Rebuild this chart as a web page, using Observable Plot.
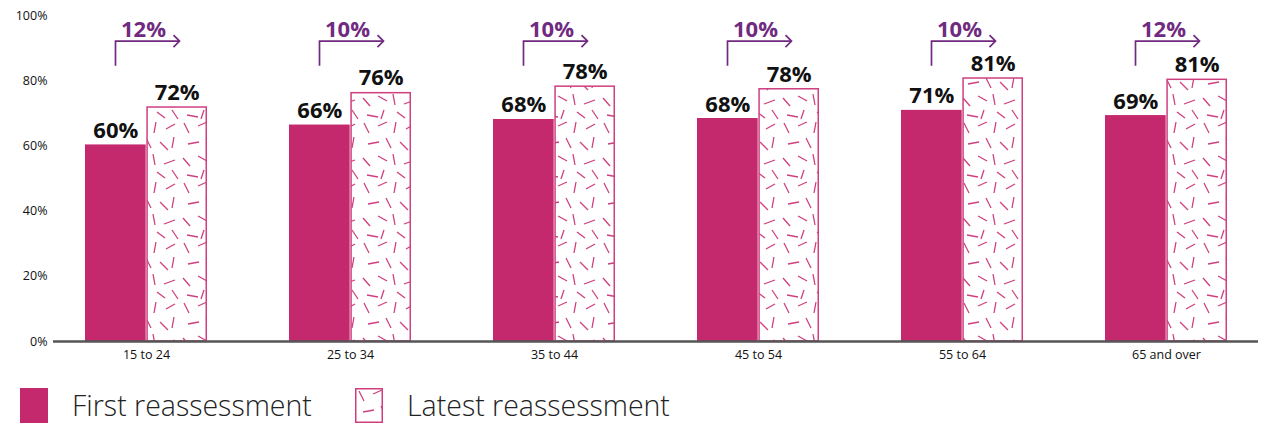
<!DOCTYPE html>
<html>
<head>
<meta charset="utf-8">
<script src="https://cdn.jsdelivr.net/npm/d3@7"></script>
<script src="https://cdn.jsdelivr.net/npm/@observablehq/plot@0.6"></script>
<style>
  html, body { margin: 0; padding: 0; background: #fff; }
  body { width: 1264px; height: 425px; overflow: hidden; font-family: "Open Sans", Lato, sans-serif; }
  #legend { position: relative; height: 60px; }
  .item { position: absolute; top: 23px; display: flex; align-items: center; }
  .item span { font-size: 28.5px; font-weight: 300; color: #222; margin-left: 24px; line-height: 35px; }
</style>
</head>
<body>
<div id="chart"></div>
<div id="legend"></div>
<script>
const ages = ["15 to 24", "25 to 34", "35 to 44", "45 to 54", "55 to 64", "65 and over"];
const firstValues = [60.3, 66.4, 68.1, 68.4, 70.9, 69.3];
const latestValues = [72.0, 76.4, 78.4, 77.6, 80.9, 80.5];
const firstLabels = ["60%", "66%", "68%", "68%", "71%", "69%"];
const latestLabels = ["72%", "76%", "78%", "78%", "81%", "81%"];
const changeLabels = ["12%", "10%", "10%", "10%", "10%", "12%"];
const yTicks = [0, 20, 40, 60, 80, 100];
const seriesNames = ["First reassessment", "Latest reassessment"];

const BAR = "#c4286d";
const PINK = "#cf3f7f";
const PURPLE = "#702a80";
const FONT = "'Open Sans', Lato, sans-serif";

const rows = ages.map((age, i) => ({
  age, first: firstValues[i], latest: latestValues[i],
  firstLabel: firstLabels[i], latestLabel: latestLabels[i], change: changeLabels[i]
}));

const xOpts = {type: "band", domain: ages, range: [51, 1261], paddingInner: 0.4, paddingOuter: 0.16};
const xs = Plot.scale({x: xOpts});
const bw = xs.bandwidth;

const dashes = [[4,3,9,13],[18,6,27,2],[36,2,34,13],[46,9,55,4],
  [8,24,19,22],[26,18,31,28],[40,22,48,30],[54,17,52,28],
  [3,38,10,46],[18,36,27,41],[33,34,35,45],[44,44,55,40],
  [7,55,18,57],[24,50,21,59],[37,52,45,58],[52,50,58,59]];
const patternDef = `<pattern id="dashes" patternUnits="userSpaceOnUse" width="60" height="60"><rect width="60" height="60" fill="#fff"/>${dashes.map(d => `<line x1="${d[0]}" y1="${d[1]}" x2="${d[2]}" y2="${d[3]}" stroke="${PINK}" stroke-width="1.3"/>`).join("")}</pattern>`;

const arrows = (index, scales) => {
  const g = d3.create("svg:g").attr("fill", "none").attr("stroke", PURPLE).attr("stroke-width", 1.7);
  const x = scales.x, y = scales.y;
  const b = typeof x.bandwidth === "function" ? x.bandwidth() : x.bandwidth;
  for (const r of rows) {
    const x0 = x(r.age) + b / 4;
    const x1 = x(r.age) + 3 * b / 4 + 3;
    const yb = y(84.4), ym = y(92);
    g.append("path").attr("d", `M${x0},${yb}V${ym}H${x1}`);
    g.append("path").attr("d", `M${x1 - 6},${ym - 6}L${x1},${ym}L${x1 - 6},${ym + 6}`);
  }
  return g.node();
};

const plot = Plot.plot({
  width: 1264,
  height: 365,
  marginLeft: 53,
  marginRight: 6,
  marginTop: 15,
  marginBottom: 24,
  style: {fontFamily: FONT, fontSize: "12.5px", color: "#111", background: "#fff"},
  x: {...xOpts, label: null, tickSize: 0, tickPadding: 9},
  y: {domain: [0, 100], ticks: yTicks, tickFormat: d => d + "%", label: null, tickSize: 0, tickPadding: 6},
  marks: [
    Plot.ruleY(yTicks.filter(d => d > 0), {x1: 53, x2: 1258, stroke: "#bbb", strokeDasharray: "1.5,4", strokeWidth: 1}),
    Plot.barY(rows, {x: "age", y: "first", fill: BAR, insetRight: bw / 2}),
    Plot.barY(rows, {x: "age", y: "latest", fill: "url(#dashes)", stroke: PINK, strokeWidth: 1.5, insetLeft: bw / 2 + 0.75, insetRight: 0.75, insetTop: 0.75}),
    Plot.ruleY([0], {stroke: "#555", strokeWidth: 2.5}),
    Plot.text(rows, {x: "age", y: "first", text: "firstLabel", dx: -bw / 4, dy: -7, lineAnchor: "bottom", fontSize: 22, fontWeight: "bold", fill: "#111"}),
    Plot.text(rows, {x: "age", y: "latest", text: "latestLabel", dx: bw / 4, dy: -7, lineAnchor: "bottom", fontSize: 22, fontWeight: "bold", fill: "#111"}),
    arrows,
    Plot.text(rows, {x: "age", y: 92, text: "change", dx: -3, dy: -5, lineAnchor: "bottom", fontSize: 22, fontWeight: "bold", fill: PURPLE})
  ]
});

d3.select(plot).insert("defs", ":first-child").html(patternDef);
document.getElementById("chart").appendChild(plot);

const legend = document.getElementById("legend");
legend.innerHTML = `
  <div class="item" style="left:20px"><svg width="28" height="35"><rect width="28" height="35" fill="${BAR}"/></svg><span>${seriesNames[0]}</span></div>
  <div class="item" style="left:355px"><svg width="28" height="35"><rect x="0.75" y="0.75" width="26.5" height="33.5" fill="url(#dashes)" stroke="${PINK}" stroke-width="1.5"/></svg><span>${seriesNames[1]}</span></div>`;
</script>
</body>
</html>
